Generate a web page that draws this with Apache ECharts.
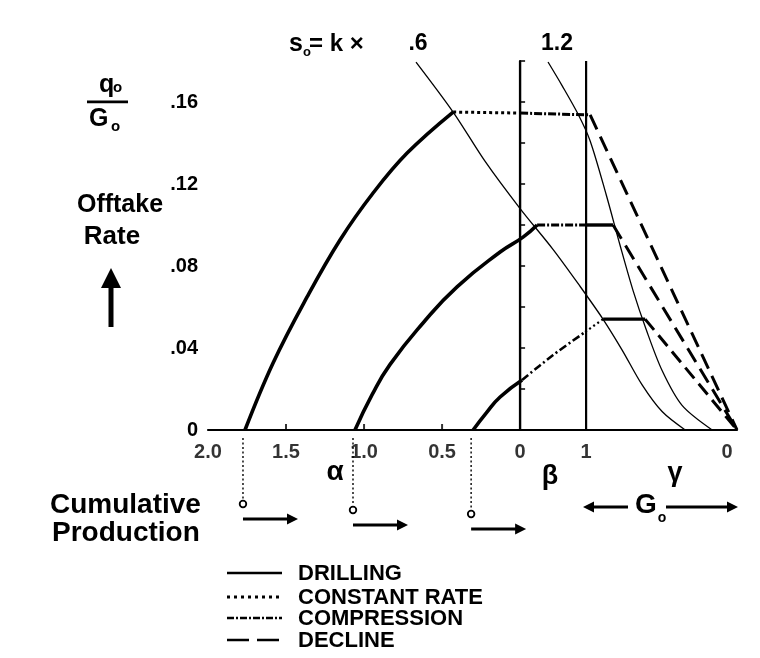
<!DOCTYPE html>
<html><head><meta charset="utf-8">
<script src="https://cdn.jsdelivr.net/npm/echarts@6/dist/echarts.min.js"></script>
<style>html,body{margin:0;padding:0;background:#fff}#c{width:760px;height:658px}</style>
</head><body><div id="c"></div>
<script>
// Horizontal layout coordinate is expressed in alpha units (alpha = 0 on the beta = 0 line).
const yTickValues = [0, 0.04, 0.08, 0.12, 0.16];
const yTickLabels = ['0', '.04', '.08', '.12', '.16'];
const alphaTickPos = [2.0, 1.5, 1.0, 0.5];
const alphaTickLabels = ['2.0', '1.5', '1.0', '0.5'];
const betaTickPos = [0, -0.423];
const betaTickLabels = ['0', '1'];
const gammaTickPos = [-1.39];
const gammaTickLabels = ['0'];
const betaLinePos = [0, -0.423];
const yMax = 0.18;

const drilling1 = [[1.763,0],[1.583,0.0327],[1.365,0.0649],[1.154,0.0927],[0.942,0.1156],[0.724,0.1351],[0.429,0.1551]];
const drilling2 = [[1.058,0],[0.949,0.0171],[0.833,0.0320],[0.622,0.0522],[0.404,0.0698],[0.128,0.0868],[-0.019,0.0941],[-0.109,0.1000]];
const drilling3 = [[0.301,0],[0.215,0.0085],[0.128,0.0161],[-0.013,0.0244]];
const constRate1 = [[0.429,0.1551],[0,0.1546]];
const constRate3 = [[-0.417,0.0478],[-0.532,0.0541]];
const compression1 = [[0,0.1546],[-0.449,0.1537]];
const compression2 = [[-0.109,0.1000],[-0.423,0.1000]];
const compression3 = [[-0.013,0.0244],[-0.212,0.0366],[-0.417,0.0478]];
const plateau2 = [[-0.423,0.1000],[-0.596,0.1000]];
const plateau3 = [[-0.532,0.0541],[-0.801,0.0541]];
const decline1 = [[-0.449,0.1537],[-1.39,0]];
const decline2 = [[-0.596,0.1000],[-1.39,0]];
const decline3 = [[-0.801,0.0541],[-1.39,0]];
const kLine06 = [[0.667,0.1795],[0.429,0.1551],[0.224,0.131],[0.0,0.108],[-0.212,0.088],[-0.385,0.070],[-0.532,0.054],[-0.654,0.039],[-0.782,0.022],[-0.910,0.009],[-1.058,0]];
const kLine12 = [[-0.179,0.1795],[-0.269,0.168],[-0.372,0.154],[-0.449,0.141],[-0.551,0.115],[-0.641,0.090],[-0.724,0.068],[-0.808,0.049],[-0.910,0.029],[-1.038,0.012],[-1.231,0]];
const startPos = [1.763, 1.058, 0.301];

const FONT = '"Liberation Sans", Arial, sans-serif';
const chart = echarts.init(document.getElementById('c'), null, {renderer: 'canvas'});

function ln(data, width, dash, smooth) {
  return {type: 'line', data: data, symbol: 'none', clip: false, smooth: smooth || false,
    lineStyle: {color: '#000', width: width, type: dash || 'solid', cap: 'butt'}, z: 3, silent: true};
}
function tickLabels(pos, labels, offX) {
  return {type: 'scatter', clip: false, symbolSize: 1, itemStyle: {color: 'rgba(0,0,0,0)'},
    data: pos.map((p, i) => [p, 0, labels[i]]),
    label: {show: true, position: 'inside', offset: [offX || 0, 22], formatter: p => p.value[2],
      color: '#000', fontSize: 20, fontWeight: 'bold', fontFamily: FONT}, silent: true};
}

const series = [
  ln(drilling1, 3.6, 'solid', 0.4),
  ln(drilling2, 3.6, 'solid', 0.5),
  ln(drilling3, 3.6, 'solid', 0.5),
  ln(constRate1, 3, [3, 3]),
  ln(constRate3, 2.2, [2, 3]),
  ln(compression1, 3, [8, 2, 2, 2]),
  ln(compression2, 3, [8, 2, 2, 2]),
  ln(compression3, 2.6, [8, 3, 2, 3], 0.3),
  ln(plateau2, 3.4),
  ln(plateau3, 3.4),
  ln(decline1, 3, [16, 8]),
  ln(decline2, 3, [16, 8]),
  ln(decline3, 3, [14, 7]),
  ln(kLine06, 1.3, 'solid', 0.3),
  ln(kLine12, 1.3, 'solid', 0.3),
];
betaLinePos.forEach(b => series.push(ln([[b, 0], [b, yMax]], 2.2)));
series.push({type: 'scatter', clip: false, symbol: 'rect', symbolSize: [2, 6], symbolOffset: [0, -3],
  itemStyle: {color: '#000'}, data: alphaTickPos.slice(1).map(p => [p, 0]), silent: true});
series.push(tickLabels(alphaTickPos, alphaTickLabels, 0));
series.push(tickLabels(betaTickPos, betaTickLabels, 0));
series.push(tickLabels(gammaTickPos, gammaTickLabels, -10));

chart.setOption({
  animation: false,
  backgroundColor: '#fff',
  grid: {left: 208, right: 23, top: 61, bottom: 228},
  xAxis: {type: 'value', inverse: true, min: -1.39, max: 2.0,
    axisLine: {show: true, onZero: false, lineStyle: {color: '#000', width: 2.2}},
    axisTick: {show: false}, axisLabel: {show: false}, splitLine: {show: false}},
  yAxis: {type: 'value', min: 0, max: yMax, interval: 0.02,
    axisLine: {show: true, lineStyle: {color: '#000', width: 2.2}},
    axisTick: {show: true, inside: true, length: 5, lineStyle: {color: '#000', width: 1.5}},
    axisLabel: {margin: 10, color: '#000', fontSize: 20, fontWeight: 'bold', fontFamily: FONT,
      formatter: v => { const i = yTickValues.findIndex(t => Math.abs(t - v) < 1e-6); return i >= 0 ? yTickLabels[i] : ''; }},
    splitLine: {show: false}},
  series: series
});

function txt(x, y, text, size, align, extra) {
  return Object.assign({type: 'text', silent: true, style: {x: x, y: y, text: text, fill: '#000',
    font: 'bold ' + size + 'px ' + FONT, align: align || 'left', verticalAlign: 'middle'}}, extra || {});
}
function arrowRight(x1, x2, y) {
  return [
    {type: 'line', silent: true, shape: {x1: x1, y1: y, x2: x2 - 8, y2: y}, style: {stroke: '#000', lineWidth: 2.8}},
    {type: 'polygon', silent: true, shape: {points: [[x2 - 11, y - 5.5], [x2, y], [x2 - 11, y + 5.5]]}, style: {fill: '#000'}}
  ];
}
function arrowLeft(x1, x2, y) {
  return [
    {type: 'line', silent: true, shape: {x1: x1 + 8, y1: y, x2: x2, y2: y}, style: {stroke: '#000', lineWidth: 2.8}},
    {type: 'polygon', silent: true, shape: {points: [[x1 + 11, y - 5.5], [x1, y], [x1 + 11, y + 5.5]]}, style: {fill: '#000'}}
  ];
}

const g = [];
// y label
g.push(txt(99, 85, 'q', 25));
g.push(txt(113, 88, 'o', 15));
g.push({type: 'rect', silent: true, shape: {x: 87, y: 100.5, width: 41, height: 2.8}, style: {fill: '#000'}});
g.push(txt(89, 119, 'G', 25));
g.push(txt(111, 127, 'o', 15));
g.push(txt(120, 205, 'Offtake', 25, 'center'));
g.push(txt(112, 237, 'Rate', 26, 'center'));
g.push({type: 'rect', silent: true, shape: {x: 108.5, y: 284, width: 5, height: 43}, style: {fill: '#000'}});
g.push({type: 'polygon', silent: true, shape: {points: [[101, 288], [111, 268], [121, 288]]}, style: {fill: '#000'}});
// top label
g.push(txt(289, 44, 's', 25));
g.push(txt(303, 52, 'o', 13));
g.push(txt(309, 44, '= k \u00d7', 24));
g.push(txt(418, 44, '.6', 23, 'center'));
g.push(txt(557, 44, '1.2', 23, 'center'));
// greek axis names
g.push(txt(335, 472, '\u03b1', 28, 'center'));
g.push(txt(550, 477, '\u03b2', 27, 'center'));
g.push(txt(675, 474, '\u03b3', 27, 'center'));
// G0 arrows
g.push(...arrowLeft(583, 628, 507));
g.push(txt(646, 505, 'G', 28, 'center'));
g.push(txt(662, 518, 'o', 14, 'center'));
g.push(...arrowRight(666, 738, 507));
// Cumulative production
g.push(txt(50, 505, 'Cumulative', 28));
g.push(txt(52, 533, 'Production', 28));
// legend
const legendRows = [
  ['DRILLING', 573, 'solid', 2.6],
  ['CONSTANT RATE', 597, [3, 4], 3],
  ['COMPRESSION', 618, [7, 2, 2, 2], 2.6],
  ['DECLINE', 640, [22, 8], 2.6]
];
legendRows.forEach(r => {
  g.push({type: 'line', silent: true, shape: {x1: 227, y1: r[1], x2: 282, y2: r[1]},
    style: {stroke: '#000', lineWidth: r[3], lineDash: r[2] === 'solid' ? null : r[2]}});
  g.push(txt(298, r[1] + 1, r[0], 22));
});
// drop lines from the start of each drilling curve to the cumulative production markers
const circY = [504, 510, 514];
startPos.forEach((p, i) => {
  const x = chart.convertToPixel({xAxisIndex: 0}, p) - 2;
  g.push({type: 'line', silent: true, shape: {x1: x, y1: 438, x2: x, y2: circY[i] - 5},
    style: {stroke: '#000', lineWidth: 1.4, lineDash: [2, 2.5]}});
  g.push({type: 'circle', silent: true, shape: {cx: x, cy: circY[i], r: 3.3}, style: {stroke: '#000', lineWidth: 1.8, fill: '#fff'}});
  g.push(...arrowRight(x, x + 55, circY[i] + 15));
});
chart.setOption({graphic: g});
</script></body></html>
